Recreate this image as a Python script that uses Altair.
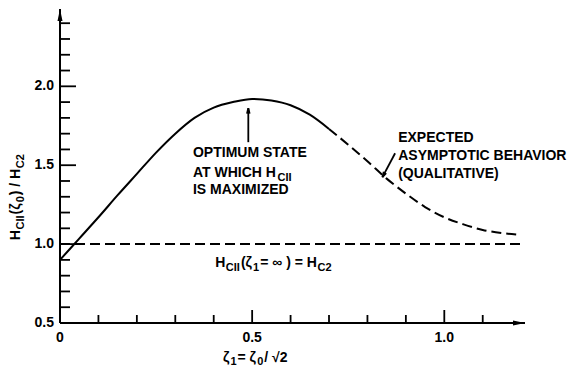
import altair as alt
import pandas as pd

# ---------------- data ----------------
solid_x = [0.00, 0.05, 0.10, 0.15, 0.20, 0.25, 0.30, 0.35, 0.40, 0.45, 0.50, 0.55, 0.60, 0.65, 0.70]
solid_y = [0.90, 1.035, 1.17, 1.31, 1.445, 1.58, 1.70, 1.80, 1.865, 1.90, 1.92, 1.91, 1.88, 1.82, 1.73]

dash_x = [0.70, 0.75, 0.80, 0.85, 0.90, 0.95, 1.00, 1.05, 1.10, 1.15, 1.19]
dash_y = [1.73, 1.63, 1.525, 1.415, 1.32, 1.235, 1.17, 1.125, 1.09, 1.07, 1.06]

limit_x = [0.0, 1.2]
limit_y = [1.0, 1.0]

x_major_ticks = [0.5, 1.0]
x_minor_ticks = [0.1, 0.2, 0.3, 0.4, 0.6, 0.7, 0.8, 0.9, 1.1]
y_major_ticks = [1.0, 1.5, 2.0]
y_minor_ticks = [0.6, 0.7, 0.8, 0.9, 1.1, 1.2, 1.3, 1.4, 1.6, 1.7, 1.8, 1.9, 2.1, 2.2, 2.3, 2.4]
x_label_values = [0.0, 0.5, 1.0]
x_label_text = ["0", "0.5", "1.0"]
y_label_values = [0.5, 1.0, 1.5, 2.0]
y_label_text = ["0.5", "1.0", "1.5", "2.0"]

# ---------------- layout ----------------
X_MAX, Y_MIN, Y_MAX = 1.21, 0.5, 2.49
W, H = 465, 314
PX_X = X_MAX / W
PX_Y = (Y_MAX - Y_MIN) / H
FONT = "Liberation Sans"
MAIN, SUB, SUB_SHIFT = 14, 11, 3.5

xs = alt.Scale(domain=[0, X_MAX], nice=False, zero=False)
ys = alt.Scale(domain=[Y_MIN, Y_MAX], nice=False, zero=False)

# Arial/Liberation bold advance widths (em)
AW = {' ': .278, '(': .333, ')': .333, '/': .278, '=': .584, '0': .556, '1': .556, '2': .556,
      'A': .722, 'B': .722, 'C': .722, 'D': .722, 'E': .667, 'H': .722, 'I': .278, 'L': .611,
      'M': .833, 'O': .778, 'P': .667, 'Q': .778, 'R': .722, 'S': .667, 'T': .611, 'U': .722,
      'V': .667, 'W': .944, 'X': .667, 'Y': .667, 'Z': .611, 'ζ': .50, '∞': .72, '√': .55}


def tw(s, size):
    return sum(AW.get(c, .6) for c in s) * size


# rich texts: anchor (data x, data baseline y), pieces (text, is_subscript)
annotations = [
    (0.346, 1.551, [("OPTIMUM STATE", False)]),
    (0.346, 1.424, [("AT WHICH H", False), ("CII", True)]),
    (0.346, 1.316, [("IS MAXIMIZED", False)]),
    (0.880, 1.646, [("EXPECTED", False)]),
    (0.880, 1.532, [("ASYMPTOTIC BEHAVIOR", False)]),
    (0.880, 1.418, [("(QUALITATIVE)", False)]),
    (0.404, 0.854, [("H", False), ("CII", True), ("(ζ", False), ("1", True),
                    ("= ∞ ) = H", False), ("C2", True)]),
    (0.424, 0.253, [("ζ", False), ("1", True), ("= ζ", False), ("0", True), (" / √2", False)]),
]
ytitle = (-0.104, 1.025, [("H", False), ("CII", True), ("(ζ", False), ("0", True),
                          (") / H", False), ("C2", True)])

rows = []
for ax_, ay_, parts in annotations:
    off = 0.0
    for t, sub in parts:
        size = SUB if sub else MAIN
        rows.append({"t": t, "x": ax_ + off * PX_X,
                     "y": ay_ - (SUB_SHIFT * PX_Y if sub else 0), "s": size})
        off += tw(t, size) + (1 if sub else 0.5)
text_df = pd.DataFrame(rows)

rrows = []
ax_, ay_, parts = ytitle
off = 0.0
for t, sub in parts:
    size = SUB if sub else MAIN
    rrows.append({"t": t, "x": ax_ + (SUB_SHIFT * PX_X if sub else 0),
                  "y": ay_ + off * PX_Y, "s": size})
    off += tw(t, size) + (1 if sub else 0.5)
rot_df = pd.DataFrame(rrows)

# ---------------- layers ----------------
X = lambda: alt.X("x:Q", scale=xs, axis=None)
Y = lambda: alt.Y("y:Q", scale=ys, axis=None)

curve_df = pd.DataFrame({"x": solid_x, "y": solid_y})
dash_df = pd.DataFrame({"x": dash_x, "y": dash_y})
limit_df = pd.DataFrame({"x": limit_x, "y": limit_y})

solid = alt.Chart(curve_df).mark_line(color="black", strokeWidth=2, interpolate="monotone").encode(
    x=X(), y=Y())
dashed = alt.Chart(dash_df).mark_line(color="black", strokeWidth=2, interpolate="monotone",
                                      strokeDash=[10, 5]).encode(x=X(), y=Y())
limit = alt.Chart(limit_df).mark_line(color="black", strokeWidth=2, strokeDash=[10, 5]).encode(
    x=X(), y=Y())

axes_df = pd.DataFrame({"x": [0.0, 0.0], "x2": [X_MAX, 0.0], "y": [Y_MIN, Y_MIN], "y2": [Y_MIN, Y_MAX]})
axes = alt.Chart(axes_df).mark_rule(color="black", strokeWidth=2).encode(
    x=X(), x2="x2", y=Y(), y2="y2")


def xticks(vals, length):
    df = pd.DataFrame({"x": vals, "y": [Y_MIN] * len(vals)})
    return alt.Chart(df).mark_rule(color="black", strokeWidth=1.8, y2Offset=-length).encode(
        x=X(), y=Y(), y2="y")


def yticks(vals, length):
    df = pd.DataFrame({"y": vals, "x": [0.0] * len(vals)})
    return alt.Chart(df).mark_rule(color="black", strokeWidth=1.8, x2Offset=length).encode(
        x=X(), x2="x", y=Y())


xlab = alt.Chart(pd.DataFrame({"x": x_label_values, "y": [Y_MIN] * 3, "t": x_label_text})).mark_text(
    align="center", baseline="top", dy=8, font=FONT, fontWeight="bold", fontSize=14, color="black"
).encode(x=X(), y=Y(), text="t:N")
ylab = alt.Chart(pd.DataFrame({"y": y_label_values, "x": [0.0] * 4, "t": y_label_text})).mark_text(
    align="right", baseline="middle", dx=-6, font=FONT, fontWeight="bold", fontSize=14, color="black"
).encode(x=X(), y=Y(), text="t:N")

up_head = "M0,0L0.5,2.4L-0.5,2.4Z"
right_head = "M0,0L-2.4,-0.5L-2.4,0.5Z"
yhead = alt.Chart(pd.DataFrame({"x": [0.0], "y": [Y_MAX]})).mark_point(
    shape=up_head, size=100, filled=True, fill="black", strokeWidth=0, opacity=1).encode(x=X(), y=Y())
xhead = alt.Chart(pd.DataFrame({"x": [X_MAX], "y": [Y_MIN]})).mark_point(
    shape=right_head, size=100, filled=True, fill="black", strokeWidth=0, opacity=1).encode(x=X(), y=Y())

# annotation arrows
arrow_df = pd.DataFrame({"x": [0.49, 0.872], "y": [1.646, 1.576],
                         "x2": [0.49, 0.839], "y2": [1.861, 1.424]})
arrow_lines = alt.Chart(arrow_df).mark_rule(color="black", strokeWidth=1.8).encode(
    x=X(), x2="x2", y=Y(), y2="y2")
v_head = "M-0.45,1.8L0,0L0.45,1.8"
head1 = alt.Chart(pd.DataFrame({"x": [0.49], "y": [1.861]})).mark_point(
    shape=v_head, size=36, filled=False, stroke="black", strokeWidth=1.8, opacity=1).encode(x=X(), y=Y())
head2 = alt.Chart(pd.DataFrame({"x": [0.839], "y": [1.424]})).mark_point(
    shape=v_head, size=36, filled=False, stroke="black", strokeWidth=1.8, opacity=1, angle=208).encode(
    x=X(), y=Y())

texts = alt.Chart(text_df).mark_text(align="left", baseline="alphabetic", font=FONT,
                                     fontWeight="bold", color="black").encode(
    x=X(), y=Y(), text="t:N", size=alt.Size("s:Q", scale=None, legend=None))

rtexts = alt.Chart(rot_df).mark_text(align="left", baseline="alphabetic", font=FONT,
                                     fontWeight="bold", color="black", angle=270).encode(
    x=X(), y=Y(), text="t:N", size=alt.Size("s:Q", scale=None, legend=None))

chart = alt.layer(
    solid, dashed, limit, axes,
    xticks(x_minor_ticks, 8), xticks(x_major_ticks, 13),
    yticks(y_minor_ticks, 10), yticks(y_major_ticks, 16),
    xlab, ylab,
    yhead, xhead, arrow_lines, head1, head2, texts, rtexts
).properties(
    width=W, height=H,
    autosize=alt.AutoSizeParams(type="none"),
    padding={"left": 52, "top": 1, "right": 43, "bottom": 44},
    background="white",
).configure_view(stroke=None)

chart.save("out.html", embed_options={"renderer": "svg", "actions": False})
